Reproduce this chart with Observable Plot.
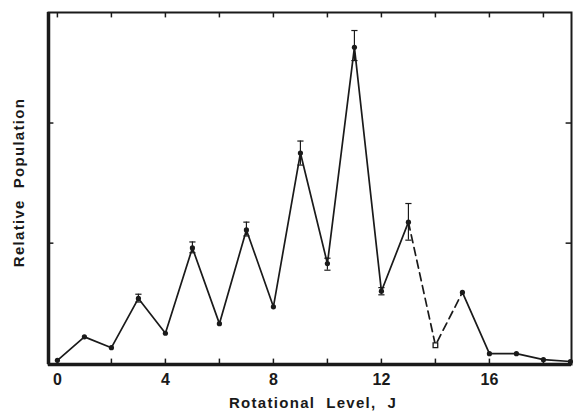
<!DOCTYPE html>
<html>
<head>
<meta charset="utf-8">
<script src="https://cdn.jsdelivr.net/npm/d3@7"></script>
<script src="https://cdn.jsdelivr.net/npm/@observablehq/plot@0.6"></script>
<style>
  html, body { margin: 0; padding: 0; background: #fff; }
  #chart .lbl text, #chart text.lbl { letter-spacing: 1.3px; }
</style>
</head>
<body>
<div id="chart"></div>
<script>
const J = [0, 1, 2, 3, 4, 5, 6, 7, 8, 9, 10, 11, 12, 13, 14, 15, 16, 17, 18, 19];
const population = [0.025, 0.22, 0.13, 0.54, 0.25, 0.96, 0.33, 1.11, 0.47, 1.75, 0.83, 2.63, 0.60, 1.175, 0.15, 0.59, 0.08, 0.08, 0.03, 0.015];
const errLow  = [null, null, null, 0.51, null, 0.92, null, 1.06, null, 1.65, 0.775, 2.52, 0.57, 1.025, null, null, null, null, null, null];
const errHigh = [null, null, null, 0.575, null, 1.01, null, 1.175, null, 1.85, 0.875, 2.77, 0.63, 1.33, null, null, null, null, null, null];
const openPoints = [14];
const xTickLabels = [0, 4, 8, 12, 16];
const xTicks = [0, 2, 4, 6, 8, 10, 12, 14, 16, 18];
const yTicks = [1, 2];
const xLabel = "Rotational  Level,  J";
const yLabel = "Relative  Population";

const rows = J.map((j, i) => ({J: j, pop: population[i], lo: errLow[i], hi: errHigh[i]}));
const solidA = rows.filter(d => d.J <= 13);
const dashed = rows.filter(d => d.J >= 13 && d.J <= 15);
const solidB = rows.filter(d => d.J >= 15);
const errRows = rows.filter(d => d.lo != null);
const closed = rows.filter(d => !openPoints.includes(d.J));
const open = rows.filter(d => openPoints.includes(d.J));

const xDom = [-0.33, 19.04];
const yDom = [-0.01, 2.92];
const ink = "#1a1a1a";

const capSymbol = {
  draw(context, size) {
    const w = Math.sqrt(size) / 2;
    context.moveTo(-w, 0);
    context.lineTo(w, 0);
  }
};

const chart = Plot.plot({
  width: 576,
  height: 414,
  marginLeft: 48,
  marginRight: 5,
  marginTop: 12,
  marginBottom: 50,
  style: {fontFamily: "Liberation Sans, Arial, sans-serif", background: "#fff", color: ink},
  x: {domain: xDom, label: null},
  y: {domain: yDom, axis: null},
  marks: [
    Plot.axisX(xTickLabels, {tickSize: 0, tickPadding: 9, fontSize: 16, fontWeight: "bold", label: null, tickFormat: d => String(d)}),
    // inward ticks
    Plot.ruleX(xTicks, {x: d => d, y1: yDom[0], y2: yDom[0] + 0.045, stroke: ink, strokeWidth: 1.5}),
    Plot.ruleX(xTicks, {x: d => d, y1: yDom[1], y2: yDom[1] - 0.045, stroke: ink, strokeWidth: 1.5}),
    Plot.ruleY(yTicks, {y: d => d, x1: xDom[0], x2: xDom[0] + 0.2, stroke: ink, strokeWidth: 1.5}),
    Plot.ruleY(yTicks, {y: d => d, x1: xDom[1], x2: xDom[1] - 0.2, stroke: ink, strokeWidth: 1.5}),
    Plot.frame({stroke: ink, strokeWidth: 2}),
    Plot.ruleX([xDom[0]], {stroke: ink, strokeWidth: 3.5}),
    Plot.ruleY([yDom[0]], {stroke: ink, strokeWidth: 3.5}),
    // error bars
    Plot.ruleX(errRows, {x: "J", y1: "lo", y2: "hi", stroke: ink, strokeWidth: 1.2}),
    Plot.dot(errRows, {x: "J", y: "hi", symbol: capSymbol, r: 3.5, stroke: ink, strokeWidth: 1.2, fill: "none"}),
    Plot.dot(errRows, {x: "J", y: "lo", symbol: capSymbol, r: 3.5, stroke: ink, strokeWidth: 1.2, fill: "none"}),
    // lines
    Plot.line(solidA, {x: "J", y: "pop", stroke: ink, strokeWidth: 1.7}),
    Plot.line(dashed, {x: "J", y: "pop", stroke: ink, strokeWidth: 1.7, strokeDasharray: "8,5"}),
    Plot.line(solidB, {x: "J", y: "pop", stroke: ink, strokeWidth: 1.7}),
    // points
    Plot.dot(closed, {x: "J", y: "pop", r: 2.6, fill: ink, stroke: "none"}),
    Plot.dot(open, {x: "J", y: "pop", symbol: "square", r: 2.6, fill: "#fff", stroke: ink, strokeWidth: 1.3}),
    // axis titles
    Plot.text([xLabel], {text: d => d, frameAnchor: "bottom", textAnchor: "middle", dx: 3, dy: 43, fontSize: 15, fontWeight: "bold", fill: ink, className: "lbl"}),
    Plot.text([yLabel], {text: d => d, frameAnchor: "left", textAnchor: "middle", dx: -29, dy: -6, rotate: -90, fontSize: 15, fontWeight: "bold", fill: ink, className: "lbl"})
  ]
});
document.getElementById("chart").appendChild(chart);
</script>
</body>
</html>
